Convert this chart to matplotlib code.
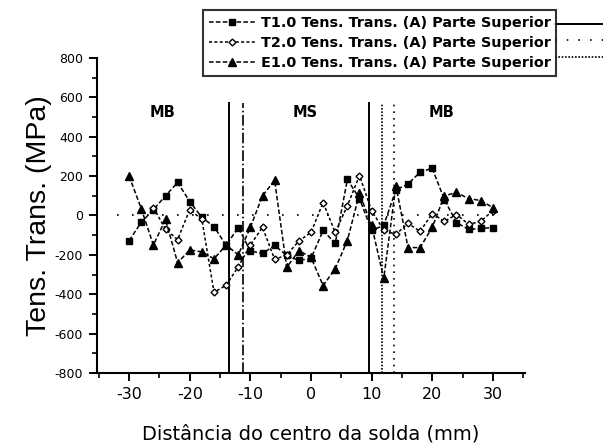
import matplotlib
matplotlib.use("Agg")
import matplotlib.pyplot as plt
from matplotlib.lines import Line2D
from matplotlib.ticker import MultipleLocator

plt.rcParams['font.family'] = ['Liberation Sans', 'DejaVu Sans']
plt.rcParams['axes.unicode_minus'] = False

# ---- data ----
x_t1 = [-30, -28, -26, -24, -22, -20, -18, -16, -14, -12, -10, -8, -6, -4, -2, 0,
        2, 4, 6, 8, 10, 12, 14, 16, 18, 20, 22, 24, 26, 28, 30]
t1 = [-127, -35, 30, 100, 168, 71, -10, -56, -152, -61, -180, -193, -152, -203, -228, -218,
      -76, -142, 183, 86, -76, -50, 130, 160, 220, 240, 81, -36, -71, -66, -61]

x_t2 = [-26, -24, -22, -20, -18, -16, -14, -12, -10, -8, -6, -4, -2, 0,
        2, 4, 6, 8, 10, 12, 14, 16, 18, 20, 22, 24, 26, 28, 30]
t2 = [40, -70, -122, 30, -20, -390, -355, -260, -150, -60, -223, -200, -130, -86,
      66, -86, 50, 203, 25, -75, -96, -40, -81, 10, -30, 5, -45, -30, 25]

x_e1 = [-30, -28, -26, -24, -22, -20, -18, -16, -14, -12, -10, -8, -6, -4, -2, 0,
        2, 4, 6, 8, 10, 12, 14, 16, 18, 20, 22, 24, 26, 28, 30]
e1 = [200, 35, -150, -20, -240, -175, -185, -220, -150, -200, -60, 100, 178, -264, -178, -213,
      -356, -270, -127, 112, -50, -320, 152, -163, -163, -60, 100, 117, 86, 76, 40]

x_zero = [-32, 32]
zero = [0, 0]

# boundary lines: (position, style)
bound_x = [-13.6, -11.2, 9.5, 11.7, 13.7]
bound_style = ['-', '-.', '-', (0, (1, 1)), (0, (1, 3))]
bound_top = 570

region_labels = ['MB', 'MS', 'MB']
region_x = [-24.5, -1, 21.5]
region_y = 523

legend_labels = ['T1.0 Tens. Trans. (A) Parte Superior',
                 'T2.0 Tens. Trans. (A) Parte Superior',
                 'E1.0 Tens. Trans. (A) Parte Superior']

# ---- figure ----
fig = plt.figure(figsize=(6.03, 4.48), dpi=100)
ax = fig.add_axes([97/603, 1-373/448, (525-97)/603, (373-58)/448])

ax.plot(x_zero, zero, color='black', lw=1.2, ls=(0, (1, 8)))

for bx, bs in zip(bound_x, bound_style):
    ax.plot([bx, bx], [-800, bound_top], color='black', lw=1.4 if bs == '-' else 1.2, ls=bs)

l1, = ax.plot(x_t1, t1, color='black', ls=(0, (3, 1.5)), lw=1.1, marker='s', ms=4.5,
              mfc='black', mec='black')
l2, = ax.plot(x_t2, t2, color='black', ls=(0, (2, 1.5)), lw=1.1, marker='D', ms=3.5,
              mfc='white', mec='black', mew=1.0)
l3, = ax.plot(x_e1, e1, color='black', ls=(0, (3, 1.5)), lw=1.1, marker='^', ms=6,
              mfc='black', mec='black')

for lab, rx in zip(region_labels, region_x):
    ax.text(rx, region_y, lab, ha='center', va='center', fontsize=10.5,
            fontweight='bold', family='DejaVu Sans')

ax.set_xlim(-35.3, 35.3)
ax.set_ylim(-800, 800)
ax.xaxis.set_minor_locator(MultipleLocator(5))
ax.yaxis.set_major_locator(MultipleLocator(200))
ax.yaxis.set_minor_locator(MultipleLocator(100))
ax.set_xticks([-30, -20, -10, 0, 10, 20, 30])
for s in ['top', 'right']:
    ax.spines[s].set_visible(False)
for s in ['left', 'bottom']:
    ax.spines[s].set_linewidth(1.5)
ax.tick_params(which='major', direction='out', length=6, width=1.4)
ax.tick_params(which='minor', direction='out', length=3.5, width=1.2)
ax.tick_params(axis='x', pad=4)
ax.tick_params(axis='y', pad=4)
for t in ax.get_xticklabels():
    t.set_family('DejaVu Sans')
    t.set_fontsize(11.5)
for t in ax.get_yticklabels():
    t.set_family('DejaVu Sans')
    t.set_fontsize(9)

ax.set_ylabel('Tens. Trans. (MPa)', fontsize=20.5, labelpad=2)
ax.set_xlabel('Dist\u00e2ncia do centro da solda (mm)', fontsize=14,
              family='DejaVu Sans', labelpad=16)

leg = fig.legend([l1, l2, l3], legend_labels, loc='upper left',
                 bbox_to_anchor=(203/603, 1-10/448),
                 prop={'size': 10.4, 'weight': 'bold', 'family': 'DejaVu Sans'},
                 frameon=True, fancybox=False, edgecolor='black', handlelength=3.2,
                 handletextpad=0.4, borderpad=0.4, labelspacing=0.42,
                 borderaxespad=0)
leg.get_frame().set_linewidth(1.5)

# lines leaving the legend box to the right
fig.add_artist(Line2D([555/603, 1.0], [1-24/448, 1-24/448], color='black', lw=1.4))
fig.add_artist(Line2D([555/603, 1.0], [1-40/448, 1-40/448], color='black', lw=1.2,
                      ls=(0, (1, 6))))
fig.add_artist(Line2D([555/603, 1.0], [1-57/448, 1-57/448], color='black', lw=1.2,
                      ls=(0, (1, 1))))

fig.savefig('out.png', dpi=100)
